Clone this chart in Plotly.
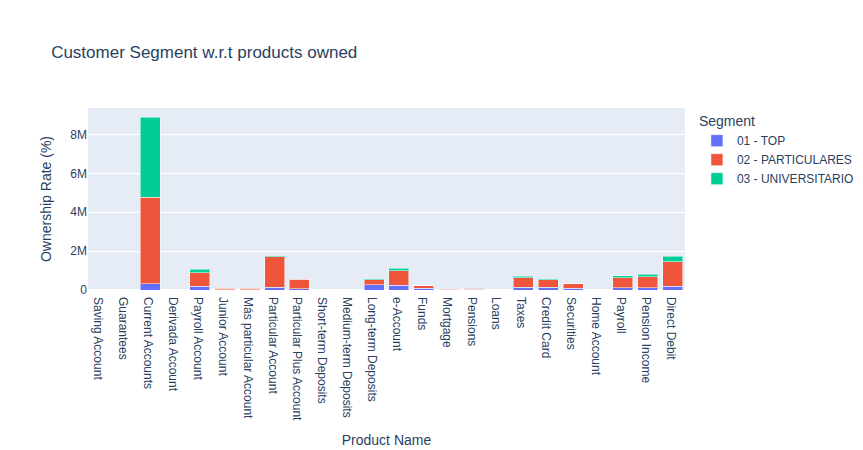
import plotly.graph_objects as go

products = ['Saving Account', 'Guarantees', 'Current Accounts', 'Derivada Account',
            'Payroll Account', 'Junior Account', 'Más particular Account',
            'Particular Account', 'Particular Plus Account', 'Short-term Deposits',
            'Medium-term Deposits', 'Long-term Deposits', 'e-Account', 'Funds',
            'Mortgage', 'Pensions', 'Loans', 'Taxes', 'Credit Card', 'Securities',
            'Home Account', 'Payroll', 'Pension Income', 'Direct Debit']

top = [500, 200, 310000, 1500, 190000, 10000, 20000, 130000, 60000, 400,
       600, 280000, 240000, 90000, 10000, 30000, 4000, 130000, 130000, 90000,
       3000, 110000, 110000, 190000]
particulares = [1000, 300, 4470000, 2000, 700000, 80000, 70000, 1590000, 500000, 800,
                1000, 260000, 760000, 130000, 30000, 60000, 8000, 500000, 410000, 220000,
                7000, 520000, 560000, 1270000]
universitario = [100, 10, 4110000, 300, 180000, 1000, 500, 10000, 5000, 100,
                 100, 5000, 110000, 3000, 500, 1000, 500, 70000, 20000, 5000,
                 300, 110000, 130000, 280000]

segments = [('01 - TOP', top, '#636efa'),
            ('02 - PARTICULARES', particulares, '#EF553B'),
            ('03 - UNIVERSITARIO', universitario, '#00cc96')]

fig = go.Figure()
for name, vals, color in segments:
    fig.add_trace(go.Bar(x=products, y=vals, name=name, marker_color=color,
                         marker_line=dict(color='rgba(255,255,255,0.5)', width=1)))

fig.update_layout(barmode='stack', width=863, height=450,
                  font=dict(family='Arial, Liberation Sans, sans-serif'),
                  title='Customer Segment w.r.t products owned',
                  xaxis_title='Product Name', yaxis_title='Ownership Rate (%)',
                  legend=dict(title_text='Segment', traceorder='normal'))
fig.write_html('out.html')
